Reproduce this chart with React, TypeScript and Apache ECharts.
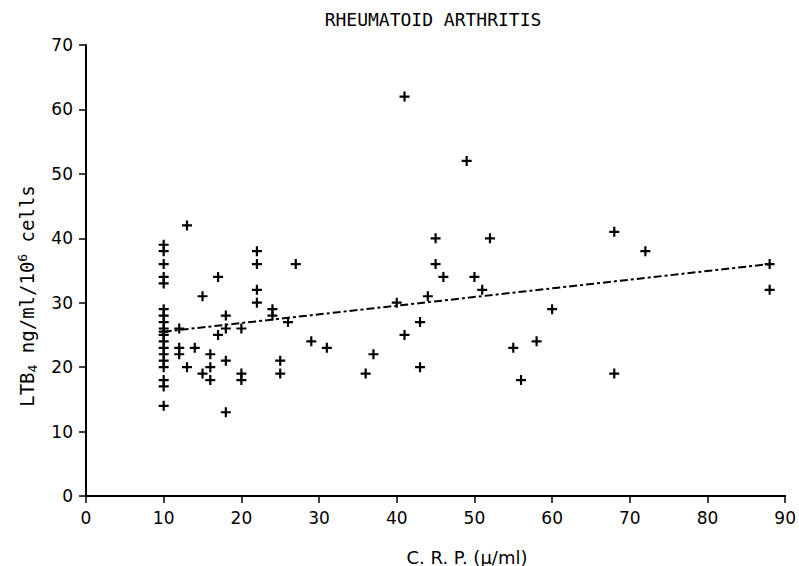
import React, { useEffect, useRef } from "react";
import * as echarts from "echarts";

const titleText = "RHEUMATOID ARTHRITIS";
const xAxisTitle = "C. R. P. (\u03bc/ml)";
const xTicks = [0, 10, 20, 30, 40, 50, 60, 70, 80, 90];
const yTicks = [0, 10, 20, 30, 40, 50, 60, 70];

// C.R.P. values (x) and LTB4 values (y), paired by index
const crpValues = [
  10, 10, 10, 10, 10, 10, 10, 10, 10, 10, 10, 10, 10, 10, 10, 10, 10, 10, 10,
  12, 12, 12, 13, 13, 14, 15, 15, 16, 16, 16, 17, 17, 18, 18, 18, 18,
  20, 20, 20, 22, 22, 22, 22, 24, 24, 25, 25, 26, 27, 29, 31, 36, 37,
  40, 41, 41, 43, 43, 44, 45, 45, 46, 49, 50, 51, 52, 55, 56, 58, 60,
  68, 68, 72, 88, 88,
];
const ltbValues = [
  39, 38, 36, 34, 33, 29, 28, 27, 26, 25.5, 25, 24, 23, 22, 21, 20, 18, 17, 14,
  26, 23, 22, 42, 20, 23, 31, 19, 22, 20, 18, 34, 25, 28, 26, 21, 13,
  26, 19, 18, 38, 36, 32, 30, 29, 28, 21, 19, 27, 36, 24, 23, 19, 22,
  30, 62, 25, 27, 20, 31, 40, 36, 34, 52, 34, 32, 40, 23, 18, 24, 29,
  41, 19, 38, 36, 32,
];

// Regression line end points
const trendX = [10, 88];
const trendY = [25.5, 36];

const PLUS = "path://M3.9,0H6.1V3.9H10V6.1H6.1V10H3.9V6.1H0V3.9H3.9Z";
const FONT = "DejaVu Sans";
const MONO = "DejaVu Sans Mono";

export default function App() {
  const ref = useRef<HTMLDivElement>(null);
  useEffect(() => {
    if (!ref.current) return;
    const chart = echarts.init(ref.current, null, { renderer: "svg" });
    const points = crpValues.map((x, i) => [x, ltbValues[i]]);
    const trend = trendX.map((x, i) => [x, trendY[i]]);
    chart.setOption({
      animation: false,
      backgroundColor: "#ffffff",
      grid: { left: 86, right: 8, top: 45, bottom: 70, containLabel: false },
      xAxis: {
        type: "value",
        min: xTicks[0],
        max: xTicks[xTicks.length - 1],
        interval: 10,
        splitLine: { show: false },
        axisLine: { show: true, onZero: false, lineStyle: { color: "#000", width: 2 } },
        axisTick: { show: true, length: 7, lineStyle: { color: "#000", width: 1.5 } },
        axisLabel: { color: "#000", fontSize: 17, fontFamily: FONT, margin: 13 },
      },
      yAxis: {
        type: "value",
        min: yTicks[0],
        max: yTicks[yTicks.length - 1],
        interval: 10,
        splitLine: { show: false },
        axisLine: { show: true, onZero: false, lineStyle: { color: "#000", width: 2 } },
        axisTick: { show: true, length: 7, lineStyle: { color: "#000", width: 1.5 } },
        axisLabel: { color: "#000", fontSize: 17, fontFamily: FONT, margin: 13 },
      },
      graphic: [
        {
          type: "text",
          x: 433,
          y: 19,
          style: {
            text: titleText,
            fill: "#000",
            font: `18px "${MONO}"`,
            align: "center",
            verticalAlign: "middle",
          },
        },
        {
          type: "text",
          x: 467,
          y: 557,
          style: {
            text: xAxisTitle,
            fill: "#000",
            font: `18px "${FONT}"`,
            align: "center",
            verticalAlign: "middle",
          },
        },
        {
          type: "text",
          x: 27,
          y: 296,
          rotation: Math.PI / 2,
          style: {
            text: "{a|LTB}{sub|4}{a| ng/ml/10}{sup|6}{a| cells}",
            fill: "#000",
            align: "center",
            verticalAlign: "middle",
            rich: {
              a: { fontSize: 19, fontFamily: MONO, fill: "#000", lineHeight: 24 },
              sub: { fontSize: 13, fontFamily: MONO, fill: "#000", padding: [10, 0, 0, 0] },
              sup: { fontSize: 13, fontFamily: MONO, fill: "#000", padding: [0, 0, 10, 0] },
            },
          },
        },
      ],
      series: [
        {
          type: "line",
          data: trend,
          symbol: "none",
          lineStyle: { color: "#000", width: 2, type: [8, 3, 3, 3] },
          z: 1,
        },
        {
          type: "scatter",
          data: points,
          symbol: PLUS,
          symbolSize: 10,
          itemStyle: { color: "#000", opacity: 1 },
          z: 2,
        },
      ],
    });
    return () => chart.dispose();
  }, []);
  return <div ref={ref} style={{ width: 799, height: 566, position: "absolute", left: 0, top: 0 }} />;
}
